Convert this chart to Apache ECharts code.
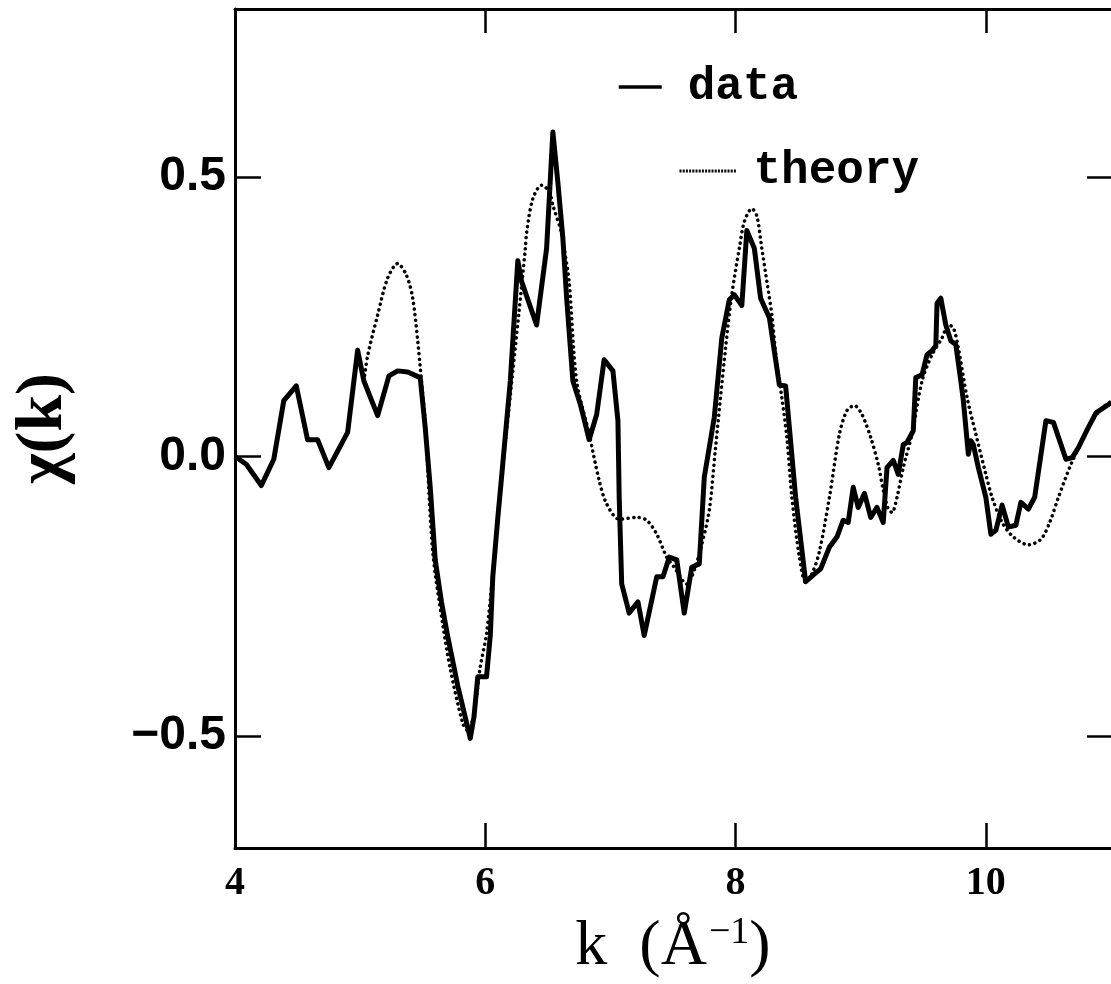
<!DOCTYPE html>
<html>
<head>
<meta charset="utf-8">
<script src="https://cdn.jsdelivr.net/npm/echarts@6/dist/echarts.min.js"></script>
<style>
html,body{margin:0;padding:0;background:#fff;}
#chart{width:1111px;height:984px;}
</style>
</head>
<body>
<div id="chart"></div>
<script>
// k values (Å^-1) and chi(k) for measured data
const dataK = [4.00,4.09,4.21,4.31,4.39,4.49,4.58,4.66,4.75,4.90,4.98,5.03,5.14,5.23,5.30,5.38,5.48,5.52,5.56,5.60,5.65,5.70,5.78,5.88,5.91,5.94,6.01,6.04,6.06,6.10,6.13,6.20,6.26,6.29,6.41,6.49,6.54,6.58,6.62,6.65,6.70,6.76,6.83,6.89,6.95,7.02,7.06,7.07,7.09,7.15,7.22,7.27,7.37,7.42,7.47,7.53,7.59,7.65,7.71,7.75,7.83,7.89,7.95,7.99,8.05,8.09,8.15,8.20,8.27,8.35,8.40,8.48,8.56,8.62,8.68,8.75,8.81,8.86,8.90,8.94,8.98,9.03,9.08,9.13,9.18,9.21,9.26,9.30,9.34,9.37,9.42,9.44,9.49,9.53,9.57,9.60,9.61,9.64,9.68,9.72,9.76,9.80,9.82,9.86,9.88,9.90,9.94,10.00,10.04,10.08,10.13,10.18,10.24,10.28,10.34,10.39,10.48,10.54,10.64,10.69,10.74,10.81,10.88,11.00];
const dataV = [0.000,-0.014,-0.052,-0.005,0.100,0.126,0.030,0.030,-0.020,0.043,0.190,0.135,0.073,0.144,0.153,0.151,0.141,0.052,-0.055,-0.185,-0.260,-0.322,-0.410,-0.504,-0.465,-0.394,-0.394,-0.320,-0.215,-0.110,-0.037,0.135,0.350,0.313,0.235,0.372,0.580,0.490,0.390,0.283,0.135,0.093,0.030,0.075,0.173,0.153,0.064,-0.073,-0.228,-0.280,-0.260,-0.320,-0.215,-0.215,-0.180,-0.185,-0.280,-0.198,-0.192,-0.037,0.070,0.212,0.280,0.289,0.270,0.404,0.372,0.283,0.248,0.128,0.126,-0.073,-0.224,-0.212,-0.201,-0.162,-0.144,-0.114,-0.118,-0.055,-0.091,-0.066,-0.109,-0.091,-0.118,-0.020,-0.007,-0.032,0.021,0.025,0.046,0.141,0.146,0.182,0.189,0.198,0.274,0.283,0.235,0.207,0.200,0.135,0.100,0.004,0.028,0.021,-0.020,-0.073,-0.139,-0.132,-0.087,-0.126,-0.123,-0.082,-0.094,-0.073,0.064,0.061,-0.005,-0.002,0.016,0.048,0.078,0.096];

// k values and chi(k) for the theory curve
const theoryK = [5.03,5.06,5.14,5.22,5.30,5.37,5.42,5.46,5.49,5.52,5.58,5.66,5.72,5.82,5.86,5.91,5.96,6.01,6.07,6.13,6.20,6.27,6.32,6.33,6.38,6.45,6.51,6.54,6.61,6.63,6.67,6.73,6.83,6.91,6.97,7.07,7.21,7.29,7.37,7.45,7.51,7.61,7.67,7.73,7.79,7.84,7.92,7.97,8.03,8.07,8.13,8.17,8.21,8.25,8.29,8.33,8.37,8.41,8.45,8.51,8.56,8.61,8.67,8.75,8.83,8.89,8.95,9.01,9.08,9.14,9.18,9.22,9.25,9.29,9.34,9.41,9.49,9.57,9.65,9.70,9.74,9.78,9.85,9.92,10.00,10.05,10.13,10.22,10.34,10.44,10.51,10.58,10.68,10.77,10.85,10.93,11.00];
const theoryV = [0.135,0.180,0.253,0.319,0.345,0.324,0.283,0.207,0.135,0.060,-0.170,-0.300,-0.380,-0.477,-0.490,-0.460,-0.376,-0.317,-0.185,-0.037,0.110,0.260,0.372,0.400,0.461,0.485,0.474,0.449,0.400,0.372,0.313,0.135,0.040,-0.043,-0.085,-0.112,-0.109,-0.114,-0.139,-0.180,-0.198,-0.228,-0.203,-0.157,-0.096,0.016,0.194,0.290,0.372,0.420,0.443,0.430,0.372,0.313,0.253,0.164,0.105,0.034,-0.073,-0.180,-0.224,-0.210,-0.170,-0.073,0.040,0.082,0.091,0.075,0.034,-0.014,-0.060,-0.094,-0.100,-0.073,-0.020,0.040,0.135,0.182,0.212,0.235,0.230,0.194,0.105,0.040,-0.032,-0.073,-0.118,-0.144,-0.158,-0.148,-0.118,-0.073,-0.014,0.028,0.064,0.087,0.098];

const xTicks = [4, 6, 8, 10];
const yTicks = [-0.5, 0, 0.5];

const chart = echarts.init(document.getElementById('chart'), null, {renderer: 'canvas'});
const black = '#000';
const frameLine = {show: true, onZero: false, lineStyle: {color: black, width: 3}};
const legendText = {fontFamily: 'Liberation Mono', fontWeight: 'bold', fontSize: 46, color: black, lineHeight: 46};

const option = {
  backgroundColor: '#fff',
  animation: false,
  grid: {left: 235, top: 9, width: 879, height: 841, containLabel: false},
  legend: [
    {
      data: ['data'], left: 612, top: 59, itemWidth: 43, itemHeight: 14,
      itemStyle: {opacity: 0},
      lineStyle: {width: 3.5, color: black},
      textStyle: Object.assign({padding: [0, 0, 0, 21]}, legendText)
    },
    {
      data: ['theory'], left: 673, top: 143, itemWidth: 57, itemHeight: 14,
      itemStyle: {opacity: 0},
      lineStyle: {width: 3, color: black, type: [2, 1.2], cap: 'butt'},
      textStyle: Object.assign({padding: [0, 0, 0, 12]}, legendText)
    }
  ],
  xAxis: [
    {
      type: 'value', min: 4, max: 11, interval: 2, position: 'bottom',
      axisLine: frameLine,
      axisTick: {show: true, inside: true, length: 25, lineStyle: {color: black, width: 2.5}, customValues: xTicks},
      axisLabel: {customValues: xTicks, color: black, fontFamily: 'Liberation Serif', fontWeight: 'bold', fontSize: 40, margin: 16},
      splitLine: {show: false},
      name: 'k  (Å{sup|−1})',
      nameLocation: 'middle', nameGap: 66,
      nameTextStyle: {
        fontFamily: 'Liberation Serif', fontSize: 64, color: black,
        rich: {sup: {fontFamily: 'Liberation Serif', fontSize: 38, color: black, verticalAlign: 'top', padding: [0, 0, 28, 2]}}
      }
    },
    {
      type: 'value', min: 4, max: 11, interval: 2, position: 'top',
      axisLine: frameLine,
      axisTick: {show: true, inside: true, length: 24, lineStyle: {color: black, width: 2.5}, customValues: xTicks},
      axisLabel: {show: false},
      splitLine: {show: false}
    }
  ],
  yAxis: [
    {
      type: 'value', min: -0.7, max: 0.8, position: 'left',
      axisLine: frameLine,
      axisTick: {show: true, inside: true, length: 26, lineStyle: {color: black, width: 2.5}, customValues: yTicks},
      axisLabel: {
        customValues: yTicks, color: black, fontFamily: 'Liberation Sans', fontWeight: 'bold', fontSize: 48, margin: 9,
        formatter: v => (v < 0 ? '\u2212' : '') + Math.abs(v).toFixed(1)
      },
      splitLine: {show: false},
      name: 'χ(k)', nameLocation: 'middle', nameRotate: 90, nameGap: 158,
      nameTextStyle: {fontFamily: 'Liberation Serif', fontWeight: 'bold', fontSize: 66, color: black}
    },
    {
      type: 'value', min: -0.7, max: 0.8, position: 'right',
      axisLine: {show: false, onZero: false},
      axisTick: {show: true, inside: true, length: 24, lineStyle: {color: black, width: 2.5}, customValues: yTicks},
      axisLabel: {show: false},
      splitLine: {show: false}
    }
  ],
  series: [
    {
      name: 'data', type: 'line', xAxisIndex: 0, yAxisIndex: 0,
      data: dataK.map((k, i) => [k, dataV[i]]),
      symbol: 'none', smooth: false, z: 3,
      lineStyle: {color: black, width: 5, join: 'round'},
      itemStyle: {color: black}
    },
    {
      name: 'theory', type: 'line', xAxisIndex: 0, yAxisIndex: 0,
      data: theoryK.map((k, i) => [k, theoryV[i]]),
      symbol: 'none', smooth: 0.3, z: 2,
      lineStyle: {color: black, width: 3.5, type: [0.1, 5.5], cap: 'round'},
      itemStyle: {color: black}
    }
  ]
};
chart.setOption(option);
</script>
</body>
</html>
